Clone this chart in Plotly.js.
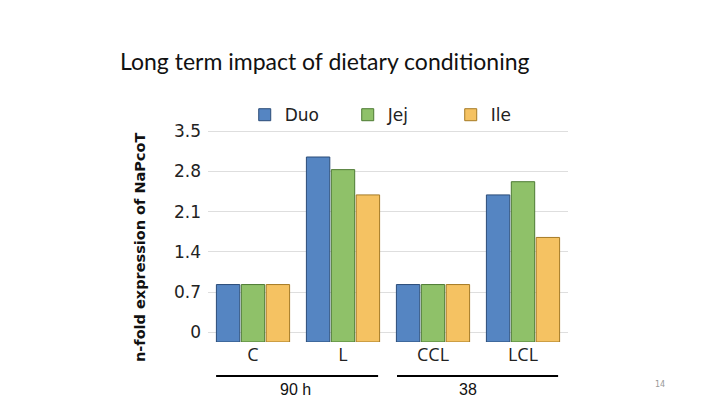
<!DOCTYPE html>
<html>
<head>
<meta charset="utf-8">
<script src="https://cdn.plot.ly/plotly-3.0.1.min.js"></script>
<style>html,body{margin:0;padding:0;background:#fff;}#chart{width:720px;height:404px;}</style>
</head>
<body>
<div id="chart"></div>
<script>
const categories = ["C", "L", "CCL", "LCL"];
const seriesNames = ["Duo", "Jej", "Ile"];
const duo = [1.0, 3.22, 1.0, 2.56];
const jej = [1.0, 3.0, 1.0, 2.79];
const ile = [1.0, 2.56, 1.0, 1.82];
const tickVals = [0, 0.7, 1.4, 2.1, 2.8, 3.5];
const tickText = ["0", "0.7", "1.4", "2.1", "2.8", "3.5"];
const groupLabels = ["90 h", "38"];
const pageNumber = "14";

const depthOffset = -0.17; // pseudo-3D floor offset seen in the picture
const fills = ["#5585c2", "#8fc169", "#f5c262"];
const edges = ["#2b4c78", "#4d7a33", "#a57a25"];
const values = [duo, jej, ile];

const traces = seriesNames.map((name, i) => ({
  type: "bar",
  name: name,
  x: categories,
  y: values[i],
  base: depthOffset,
  marker: { color: fills[i], line: { color: edges[i], width: 1 } },
  hoverinfo: "skip"
}));

const layout = {
  width: 720, height: 404,
  margin: { l: 208, r: 152, t: 130, b: 62 },
  paper_bgcolor: "#fff", plot_bgcolor: "#fff",
  barmode: "group", bargap: 0.17, bargroupgap: 0.06,
  title: {
    text: "Long term impact of dietary conditioning",
    font: { family: "Lato, 'Open Sans', sans-serif", size: 23, color: "#111" },
    xref: "container", x: 120 / 720, xanchor: "left",
    yref: "container", y: 1 - 62 / 404, yanchor: "middle"
  },
  xaxis: {
    type: "category",
    showgrid: false, zeroline: false, showline: false,
    ticks: "", tickfont: { family: "'Open Sans', sans-serif", size: 18, color: "#222" }
  },
  yaxis: {
    range: [depthOffset, 3.52],
    tickvals: tickVals, ticktext: tickText,
    showgrid: true, gridcolor: "#dedede", gridwidth: 1,
    zeroline: false, showline: false, ticks: "",
    ticklabelstandoff: 6,
    tickfont: { family: "'DejaVu Sans', sans-serif", size: 17, color: "#222" }
  },
  showlegend: true,
  legend: {
    orientation: "h", x: 0.102, xanchor: "left", y: 1.07, yanchor: "middle",
    entrywidth: 58, entrywidthmode: "pixels",
    font: { family: "'DejaVu Sans', sans-serif", size: 17, color: "#222" },
    bgcolor: "rgba(0,0,0,0)"
  },
  shapes: [
    { type: "line", xref: "x", yref: "paper", x0: -0.41, x1: 1.39, y0: -0.16, y1: -0.16, line: { color: "#000", width: 2 } },
    { type: "line", xref: "x", yref: "paper", x0: 1.6, x1: 3.39, y0: -0.16, y1: -0.16, line: { color: "#000", width: 2 } }
  ],
  annotations: [
    { text: "n-fold expression of NaPcoT", textangle: -90, xref: "paper", yref: "paper",
      x: (140 - 208) / 360, y: (342 - 247) / 212, xanchor: "center", yanchor: "middle", showarrow: false,
      font: { family: "'DejaVu Sans', sans-serif", size: 14.5, color: "#111", weight: "bold" } },
    { text: groupLabels[0], xref: "x", yref: "paper", x: 0.47, y: (342 - 389) / 212, showarrow: false,
      xanchor: "center", yanchor: "middle", font: { family: "'Liberation Sans', Arial, sans-serif", size: 16, color: "#111" } },
    { text: groupLabels[1], xref: "x", yref: "paper", x: 2.39, y: (342 - 389) / 212, showarrow: false,
      xanchor: "center", yanchor: "middle", font: { family: "'Liberation Sans', Arial, sans-serif", size: 16, color: "#111" } },
    { text: pageNumber, xref: "paper", yref: "paper", x: (660 - 208) / 360, y: (342 - 384) / 212, showarrow: false,
      xanchor: "center", yanchor: "middle", font: { family: "'DejaVu Sans', sans-serif", size: 8, color: "#999" } }
  ]
};

Plotly.newPlot("chart", traces, layout, { displayModeBar: false, staticPlot: true });
</script>
</body>
</html>
